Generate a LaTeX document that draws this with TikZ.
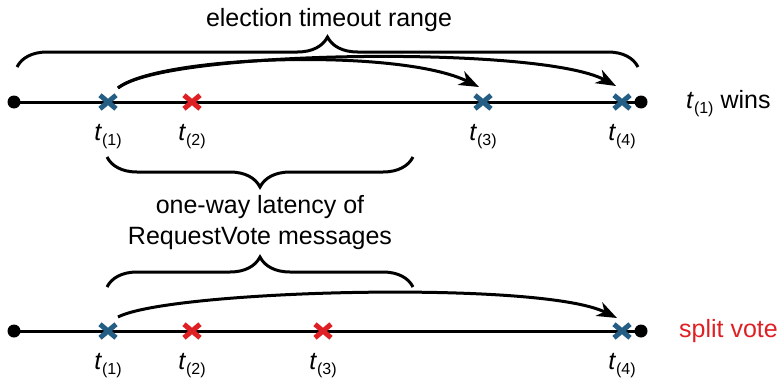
\documentclass[tikz,border=0pt]{standalone}
\usepackage{fontspec}
\setmainfont{Liberation Sans}
\usetikzlibrary{arrows.meta,decorations.pathreplacing,shapes.misc,calc}
\definecolor{xblue}{RGB}{36,94,133}
\definecolor{xred}{RGB}{222,32,36}
\newcommand\tlab[1]{\textit{t}\raisebox{-5pt}{\fontsize{16}{16}\selectfont(#1)}}
\begin{document}
\begin{tikzpicture}[x=1pt,y=-1pt,
 axis/.style={line width=3pt},
 dotnode/.style={circle,fill=black,inner sep=0pt,minimum size=13pt},
 crossnode/.style={cross out,draw=#1,line width=5pt,inner sep=0pt,minimum width=11pt,minimum height=8.5pt},
 tlabel/.style={anchor=base,font=\fontsize{25}{30}\selectfont,inner sep=0pt},
 txt/.style={anchor=base,font=\fontsize{25}{31}\selectfont,inner sep=0pt},
 brace/.style={decorate,decoration={brace,amplitude=30pt},line width=3pt},
 arr/.style={line width=3pt,-{Stealth[length=20pt,width=15pt,inset=6pt]}}]
\useasboundingbox (0,0) rectangle (781,380);

% ---- top timeline ----
\node[dotnode] (d1l) at (14,102) {};
\node[dotnode] (d1r) at (641,102) {};
\draw[axis] (d1l.center) -- (d1r.center);
\node[crossnode=xblue] (c11) at (108,102) {};
\node[crossnode=xred]  (c12) at (192,102) {};
\node[crossnode=xblue] (c13) at (483,102) {};
\node[crossnode=xblue] (c14) at (622,102) {};
\node[tlabel] (l11) at (108,140) {\tlab{1}};
\node[tlabel] (l12) at (192,140) {\tlab{2}};
\node[tlabel] (l13) at (483,140) {\tlab{3}};
\node[tlabel] (l14) at (622,140) {\tlab{4}};
\node[txt,anchor=base west] (win) at (686,108) {\tlab{1} wins};

\coordinate (s1) at ($(c11)+(10,-14)$);
\coordinate (e3) at ($(c13)+(-4,-15)$);
\coordinate (e4) at ($(c14)+(-6,-16)$);
\draw[arr] (s1) .. controls (165,50) and (540,45) .. (e4);
\draw[arr] (s1) .. controls (160,55) and (400,48) .. (e3);

% top brace
\coordinate (b1l) at (17,67);
\coordinate (b1r) at (638,67);
\draw[brace] (b1l) -- (b1r);
\node[txt] (etr) at (329,26) {election timeout range};

% ---- middle braces ----
\coordinate (b2l) at (107,157);
\coordinate (b2r) at (413,157);
\draw[brace] (b2r) -- (b2l);
\node[txt] (lat1) at (260,213) {one-way latency of};
\node[txt] (lat2) at (260,244) {RequestVote messages};
\coordinate (b3l) at (107,287);
\coordinate (b3r) at (413,287);
\draw[brace] (b3l) -- (b3r);

% ---- bottom timeline ----
\node[dotnode] (d2l) at (14,331) {};
\node[dotnode] (d2r) at (641,331) {};
\draw[axis] (d2l.center) -- (d2r.center);
\node[crossnode=xblue] (c21) at (108,331) {};
\node[crossnode=xred]  (c22) at (192,331) {};
\node[crossnode=xred]  (c23) at (323,331) {};
\node[crossnode=xblue] (c24) at (622,331) {};
\node[tlabel] (l21) at (108,369) {\tlab{1}};
\node[tlabel] (l22) at (192,369) {\tlab{2}};
\node[tlabel] (l23) at (323,369) {\tlab{3}};
\node[tlabel] (l24) at (622,369) {\tlab{4}};
\node[txt,anchor=base west,text=xred] (split) at (679,337) {split vote};

\coordinate (s2) at ($(c21)+(10,-14)$);
\coordinate (e24) at ($(c24)+(-5,-13)$);
\draw[arr] (s2) .. controls (170,290) and (540,280) .. (e24);
\end{tikzpicture}
\end{document}
